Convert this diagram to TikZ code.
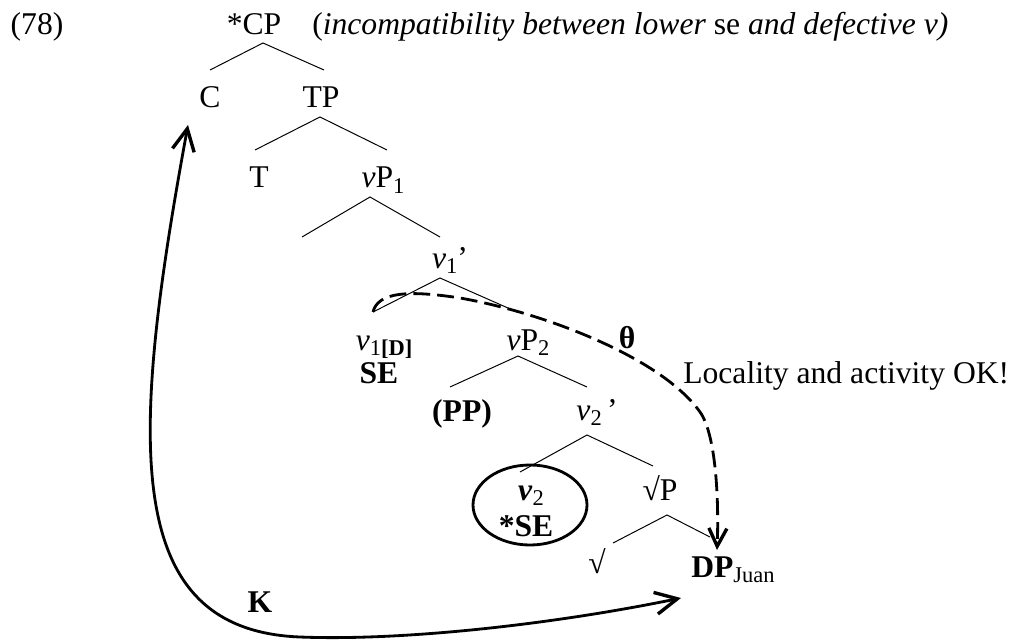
\documentclass[tikz,border=0pt]{standalone}
\usepackage{fontspec}
\setmainfont{Liberation Serif}
\usetikzlibrary{calc, arrows.meta}
\newcommand{\lowsub}[1]{\raisebox{-0.16em}{\fontsize{16}{16}\selectfont #1}}
\tikzset{
  lab/.style={anchor=base, inner sep=0pt},
  branch/.style={line width=0.7pt},
  move/.style={line width=2pt, line cap=round},
}

\begin{document}
\begin{tikzpicture}[font=\fontsize{22.5}{27}\selectfont]
  \useasboundingbox (0,0) rectangle (25.325,-16);
  % Labels
  \node[lab] (ex) at (0.925,-0.875) {(78)};
  \node[lab] (cp) at (6.35,-0.875) {*CP};
  \node[lab, anchor=base west] (title) at (7.8,-0.875)
    {(\textit{incompatibility between lower} se \textit{and defective v)}};
  \node[lab] (c) at (5.25,-2.7) {C};
  \node[lab] (tp) at (8.025,-2.7) {TP};
  \node[lab] (t) at (6.475,-4.7) {T};
  \node[lab] (vpone) at (9.575,-4.7) {\textit{v}P\lowsub{1}};
  \node[lab] (vone) at (11.25,-6.7) {\textit{v}\lowsub{1}’};
  \node[lab] (voned) at (9.6,-8.75) {\textit{v}\lowsub{1\textbf{[D]}}};
  \node[lab] (se) at (9.475,-9.575) {\textbf{SE}};
  \node[lab] (vptwo) at (13.2,-8.75) {\textit{v}P\lowsub{2}};
  \node[lab] (theta) at (15.675,-8.7) {\textbf{θ}};
  \node[lab, anchor=base west] (ok) at (17.075,-9.575) {Locality and activity OK!};
  \node[lab] (pp) at (11.55,-10.525) {\textbf{(PP)}};
  \node[lab] (vtwob) at (14.925,-10.5) {\textit{v}\lowsub{2}\,’};
  \node[lab] (vtwo) at (13.275,-12.5) {\textbf{\textit{v}}\lowsub{2}};
  \node[lab] (starse) at (13.15,-13.4) {\textbf{*SE}};
  \node[lab] (rootp) at (16.5,-12.5) {√P};
  \node[lab] (root) at (14.925,-14.325) {√};
  \node[lab] (dp) at (18.325,-14.425) {\textbf{DP}\lowsub{Juan}};
  \node[lab] (k) at (6.5,-15.3) {\textbf{K}};
  % Branch points
  \coordinate (cp-a) at (6.575,-1.075);
  \coordinate (cp-l) at (5.25,-1.75);
  \coordinate (cp-r) at (8.1,-1.75);
  \coordinate (tp-a) at (8.0,-2.925);
  \coordinate (tp-l) at (6.375,-3.75);
  \coordinate (tp-r) at (9.675,-3.75);
  \coordinate (vpone-a) at (9.25,-4.925);
  \coordinate (vpone-l) at (7.55,-5.925);
  \coordinate (vpone-r) at (11.0,-5.925);
  \coordinate (vone-a) at (11.0,-6.95);
  \coordinate (vone-l) at (9.325,-7.8);
  \coordinate (vone-r) at (12.925,-7.8);
  \coordinate (vptwo-a) at (12.95,-8.9);
  \coordinate (vptwo-l) at (11.25,-9.675);
  \coordinate (vptwo-r) at (14.675,-9.675);
  \coordinate (vtwo-a) at (14.675,-10.875);
  \coordinate (vtwo-l) at (13.0,-11.8);
  \coordinate (vtwo-r) at (16.325,-11.65);
  \coordinate (rootp-a) at (16.675,-12.875);
  \coordinate (rootp-l) at (15.325,-13.575);
  \coordinate (rootp-r) at (17.75,-13.425);
  % Tree
  \draw[branch] (cp-l) -- (cp-a) -- (cp-r);
  \draw[branch] (tp-l) -- (tp-a) -- (tp-r);
  \draw[branch] (vpone-l) -- (vpone-a) -- (vpone-r);
  \draw[branch] (vone-l) -- (vone-a) -- (vone-r);
  \draw[branch] (vptwo-l) -- (vptwo-a) -- (vptwo-r);
  \draw[branch] (vtwo-l) -- (vtwo-a) -- (vtwo-r);
  \draw[branch] (rootp-l) -- (rootp-a) -- (rootp-r);
  % Ring round lower v
  \draw[move] (13.25,-12.625) ellipse [x radius=1.425, y radius=1];
  % Theta dependency
  \coordinate (dp-in) at ($(dp.north west)+(0.65,0.15)$);
  \draw[move, line cap=butt, dash pattern=on 12pt off 5pt,
        -{Straight Barb[length=4.5mm, width=4.5mm, line width=2.4pt]}]
    (vone-l) .. controls (9.45,-7.3) and (10.2,-7.25) .. (11.5,-7.45)
    .. controls (13.5,-7.8) and (16.5,-8.9) .. (17.5,-10.3)
    .. controls (17.9,-10.86) and (17.975,-12.5) .. (dp-in);
  % Case dependency
  \coordinate (k-top) at (4.7,-3.125);
  \coordinate (k-end) at (17.025,-14.95);
  \draw[move, {Straight Barb[length=5.5mm, width=5.5mm, line width=2.4pt]}-{Straight Barb[length=5.5mm, width=5.5mm, line width=2.4pt]}]
    (k-top) .. controls (3.25,-11.0) and (3.0,-15.75) .. (7.5,-15.925)
    .. controls (10.0,-16.025) and (13.75,-15.625) .. (k-end);
\end{tikzpicture}
\end{document}
